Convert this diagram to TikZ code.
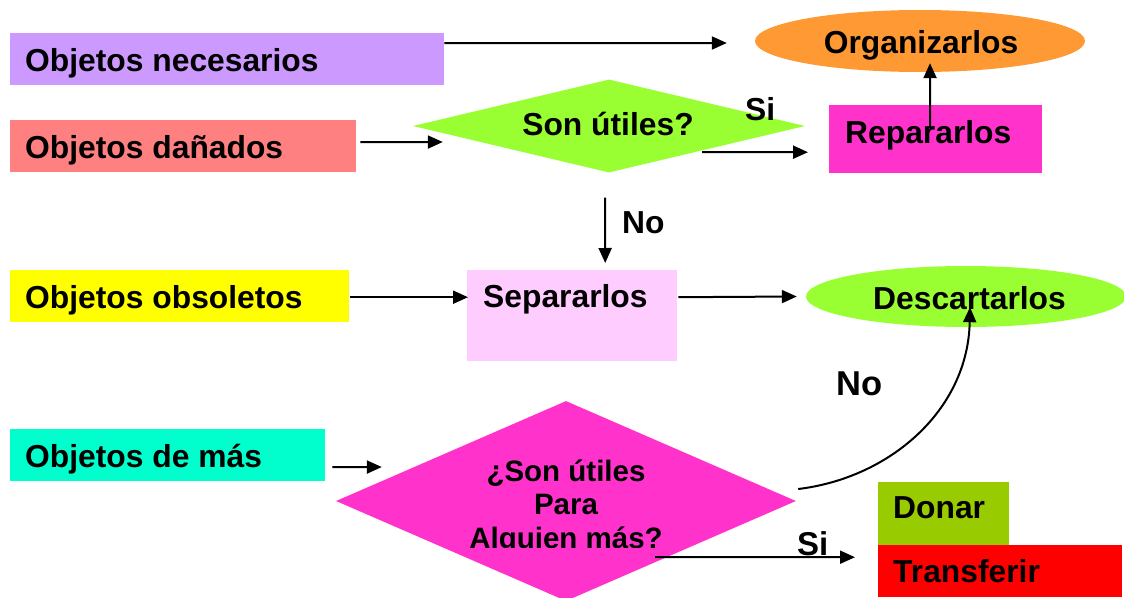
\documentclass[tikz,border=0pt]{standalone}
\usepackage{fontspec}
\setmainfont{Liberation Sans}
\usetikzlibrary{shapes.geometric,arrows.meta}
\definecolor{cnec}{HTML}{CC99FF}
\definecolor{cdan}{HTML}{FF8080}
\definecolor{cobs}{HTML}{FFFF00}
\definecolor{cmas}{HTML}{00FFCC}
\definecolor{corg}{HTML}{FF9933}
\definecolor{cgreen}{HTML}{99FF33}
\definecolor{cpink}{HTML}{FF33CC}
\definecolor{csep}{HTML}{FFCCFF}
\definecolor{cdon}{HTML}{99CC00}
\definecolor{ctra}{HTML}{FF0000}
\begin{document}
\begin{tikzpicture}[x=1pt,y=-1pt,
  box/.style={draw=none, rectangle, anchor=north west, inner sep=0},
  oval/.style={draw=none, ellipse, inner sep=0},
  dia/.style={draw=none, diamond, inner sep=0},
  txt/.style={inner sep=0, font=\fontsize{31.8}{38}\selectfont\bfseries},
  arr/.style={line width=2pt, -{Triangle[length=15pt,width=13pt]}},
]
\clip (0,0) rectangle (1124,597);
\fill[white] (0,0) rectangle (1124,597);

% left boxes
\node[box, fill=cnec, minimum width=434, minimum height=52] (nec) at (10,33) {};
\node[box, fill=cdan, minimum width=346, minimum height=52] (dan) at (10,120) {};
\node[box, fill=cobs, minimum width=339, minimum height=52] (obs) at (10,270) {};
\node[box, fill=cmas, minimum width=315, minimum height=52] (mas) at (10,429) {};
\node[txt, anchor=base west] (necT) at (25,71) {Objetos necesarios};
\node[txt, anchor=base west] (danT) at (25,158) {Objetos dañados};
\node[txt, anchor=base west] (obsT) at (25,308) {Objetos obsoletos};
\node[txt, anchor=base west] (masT) at (25,467) {Objetos de más};

% ellipses
\node[oval, fill=corg, minimum width=330, minimum height=62] (org) at (920,41) {};
\node[txt, anchor=base] (orgT) at (921,53) {Organizarlos};
\node[oval, fill=cgreen, minimum width=320, minimum height=61] (desc) at (966,296.5) {};
\node[txt, anchor=base west] (descT) at (873,309) {Descartarlos};

% diamonds
\node[dia, fill=cgreen, minimum width=392, minimum height=93, shape aspect=4.2] (util) at (609,126) {};
\node[txt, anchor=base] (utilT) at (608,135) {Son útiles?};
\node[dia, fill=cpink, minimum width=460, minimum height=200, shape aspect=2.3] (alg) at (566,501) {};
\begin{scope}
\clip (0,0) rectangle (1124,547);
\node[inner sep=0, align=center, font=\fontsize{29.5}{33.5}\selectfont\bfseries] (algT) at (566,507) {¿Son útiles\\Para\\Alguien más?};
\end{scope}

% right boxes
\node[box, fill=cpink, minimum width=213, minimum height=68] (rep) at (829,105) {};
\node[txt, anchor=base west] (repT) at (845,143) {Repararlos};
\node[box, fill=csep, minimum width=210, minimum height=91] (sep) at (467,270) {};
\node[txt, anchor=base west] (sepT) at (483,307) {Separarlos};
\node[box, fill=cdon, minimum width=131, minimum height=63] (don) at (878,482) {};
\node[txt, anchor=base west] (donT) at (893,518) {Donar};
\node[box, fill=ctra, minimum width=244, minimum height=52] (tra) at (878,545) {};
\node[txt, anchor=base west] (traT) at (893,582) {Transferir};

% labels
\node[txt, anchor=base west] (si1) at (745,120) {Si};
\node[txt, anchor=base west] (no1) at (622,233) {No};
\node[inner sep=0, anchor=base west, font=\fontsize{34.5}{40}\selectfont\bfseries] (no2) at (836,395) {No};
\node[inner sep=0, anchor=base west, font=\fontsize{33}{40}\selectfont\bfseries] (si2) at (797,555) {Si};

% connectors
\draw[arr] ([yshift=16]nec.east) -- ([xshift=-28,yshift=-2]org.west);
\draw[arr] ([xshift=4,yshift=4]dan.east) -- ([xshift=30,yshift=-16]util.west);
\draw[arr] ([xshift=93,yshift=-26]util.center) -- ([xshift=-21,yshift=-13]rep.west);
\draw[arr] ([xshift=-5.5,yshift=-23]rep.north) -- ([xshift=10,yshift=9]org.south);
\draw[arr] ([xshift=-4,yshift=-25]util.south) -- ([xshift=33,yshift=7]sep.north);
\draw[arr] ([xshift=1,yshift=-1]obs.east) -- ([xshift=1,yshift=18.5]sep.west);
\draw[arr] ([xshift=1,yshift=18.5]sep.east) -- ([xshift=-9]desc.west);
\draw[arr] ([xshift=7,yshift=-12]mas.east) -- ([xshift=46,yshift=34]alg.west);
\draw[arr] ([xshift=2,yshift=12]alg.east) .. controls (890,478) and (968,410) .. ([xshift=4,yshift=20]desc.south);
\draw[arr] ([xshift=89,yshift=-56]alg.center) -- ([xshift=-23,yshift=14]tra.west);
\end{tikzpicture}
\end{document}
